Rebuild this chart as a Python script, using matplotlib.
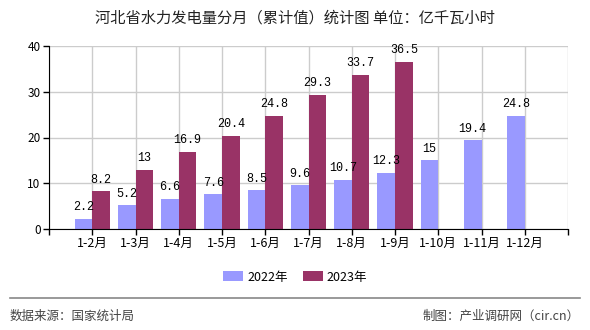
import numpy as np
import matplotlib.pyplot as plt

plt.rcParams['font.family'] = ['Noto Sans CJK SC', 'DejaVu Sans']

months = ['1-2月', '1-3月', '1-4月', '1-5月', '1-6月', '1-7月', '1-8月', '1-9月', '1-10月', '1-11月', '1-12月']
v2022 = [2.2, 5.2, 6.6, 7.6, 8.5, 9.6, 10.7, 12.3, 15, 19.4, 24.8]
v2023 = [8.2, 13, 16.9, 20.4, 24.8, 29.3, 33.7, 36.5]
labels2022 = ['2.2', '5.2', '6.6', '7.6', '8.5', '9.6', '10.7', '12.3', '15', '19.4', '24.8']
labels2023 = ['8.2', '13', '16.9', '20.4', '24.8', '29.3', '33.7', '36.5']

c2022 = '#9999ff'
c2023 = '#993366'

fig = plt.figure(figsize=(5.9, 3.3), dpi=100)
ax = fig.add_axes([49 / 590, 1 - 229 / 330, (568 - 49) / 590, (229 - 46) / 330])

x = np.arange(len(months))
w = 0.41
b1 = ax.bar(x - w / 2, v2022, w, color=c2022, zorder=3, label='2022年')
b2 = ax.bar(x[:len(v2023)] + w / 2, v2023, w, color=c2023, zorder=3, label='2023年')

mono = ['Liberation Mono', 'DejaVu Sans Mono']
for bars, labs in ((b1, labels2022), (b2, labels2023)):
    for rect, lab in zip(bars, labs):
        ax.annotate(lab, (rect.get_x() + rect.get_width() / 2, rect.get_height()),
                    xytext=(0, 4), textcoords='offset points', ha='center', va='bottom',
                    fontsize=8.5, family=mono, zorder=4)

ax.set_xlim(-1, len(months))
ax.set_ylim(0, 40)
ax.set_yticks([0, 10, 20, 30, 40])
ax.set_xticks(np.arange(-1, len(months) + 1))
ax.set_xticklabels([''] + months + [''])
ax.tick_params(axis='x', length=4, width=1, pad=2, labelsize=9)
ax.tick_params(axis='y', length=4, width=1, pad=2, labelsize=8.5)
ax.grid(True, color='#cccccc', linewidth=1, zorder=0)
ax.spines['top'].set_visible(False)
ax.spines['right'].set_visible(False)
for side in ('left', 'bottom'):
    ax.spines[side].set_color('black')
    ax.spines[side].set_zorder(5)

fig.text(0.5, 1 - 18 / 330, '河北省水力发电量分月（累计值）统计图 单位：亿千瓦小时',
         ha='center', va='center', fontsize=11, color='#222222', fontweight='medium')

fig.legend(handles=[b1, b2], loc='center', bbox_to_anchor=(0.5, 1 - 277 / 330),
           ncol=2, frameon=False, fontsize=9, handlelength=1.6, handleheight=0.8,
           handletextpad=0.3, columnspacing=1.2)

fig.add_artist(plt.Line2D([10 / 590, 580 / 590], [1 - 298 / 330, 1 - 298 / 330],
                          color='#888888', linewidth=1.2))
fig.text(10 / 590, 1 - 316 / 330, '数据来源：国家统计局', ha='left', va='center',
         fontsize=9, color='#444444')
fig.text(580 / 590, 1 - 316 / 330, '制图：产业调研网（cir.cn）', ha='right', va='center',
         fontsize=9, color='#444444')

fig.savefig('out.png', dpi=100)
